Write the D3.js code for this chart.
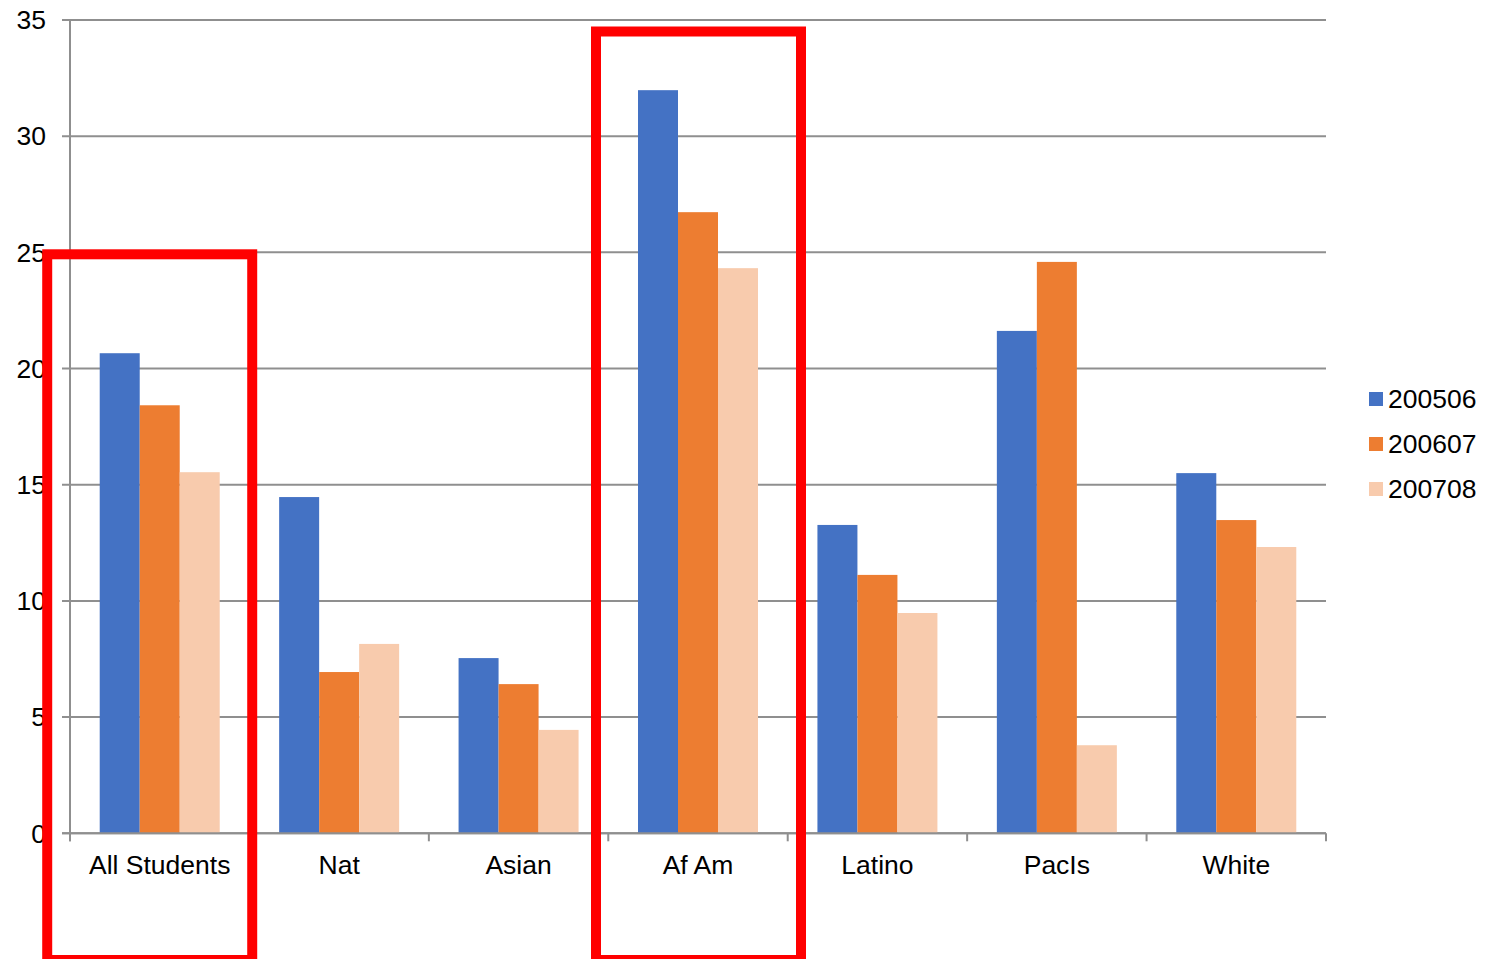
<!DOCTYPE html>
<html>
<head>
<meta charset="utf-8">
<script src="https://d3js.org/d3.v7.min.js"></script>
<style>
html,body{margin:0;padding:0;background:#fff;}
svg{display:block;font-family:"Liberation Sans",Arial,sans-serif;}
</style>
</head>
<body>
<svg id="chart" width="1486" height="959"></svg>
<script>
const categories = ["All Students","Nat","Asian","Af Am","Latino","PacIs","White"];
const seriesNames = ["200506","200607","200708"];
const s200506 = [20.66, 14.47, 7.54, 31.98, 13.27, 21.62, 15.5];
const s200607 = [18.42, 6.94, 6.42, 26.73, 11.12, 24.59, 13.48];
const s200708 = [15.54, 8.15, 4.45, 24.32, 9.48, 3.79, 12.32];
const yTicks = [0,5,10,15,20,25,30,35];
const colors = ["#4472C4","#ED7D31","#F8CBAD"];
const highlighted = ["All Students","Af Am"];

(function(){
const series = [s200506, s200607, s200708];
const svg = d3.select("#chart");
const pLeft = 70, pRight = 1326, pTop = 20, pBottom = 833.3;

const x0 = d3.scaleBand().domain(categories).range([pLeft, pRight]).padding(0);
const step = x0.bandwidth();
const barW = 40;
const groupW = barW * 3;
const x1 = d3.scaleBand().domain(seriesNames).range([(step-groupW)/2, (step+groupW)/2]).padding(0);
const y = d3.scaleLinear().domain([0,35]).range([pBottom, pTop]);

// gridlines
svg.append("g").selectAll("line").data(yTicks).join("line")
  .attr("x1", pLeft-8).attr("x2", pRight)
  .attr("y1", d=>y(d)).attr("y2", d=>y(d))
  .attr("stroke", "#8f8f8f").attr("stroke-width", 2);

// y axis line
svg.append("line").attr("x1", pLeft).attr("x2", pLeft).attr("y1", pTop).attr("y2", pBottom+8)
  .attr("stroke", "#8f8f8f").attr("stroke-width", 2);

// y labels
svg.append("g").selectAll("text").data(yTicks).join("text")
  .attr("x", 46).attr("y", d=>y(d)).attr("dy", "0.35em")
  .attr("text-anchor", "end").attr("font-size", "26.5px").attr("fill", "#000")
  .text(d=>d);

// bars
const g = svg.append("g");
categories.forEach((c, i) => {
  seriesNames.forEach((s, j) => {
    const v = series[j][i];
    g.append("rect")
      .attr("x", x0(c) + x1(s))
      .attr("y", y(v))
      .attr("width", x1.bandwidth())
      .attr("height", y(0) - y(v))
      .attr("fill", colors[j]);
  });
});

// x axis line and ticks
svg.append("line").attr("x1", pLeft-8).attr("x2", pRight).attr("y1", pBottom).attr("y2", pBottom)
  .attr("stroke", "#8f8f8f").attr("stroke-width", 2);
const bounds = categories.map(c => x0(c)).concat([pRight]);
svg.append("g").selectAll("line").data(bounds).join("line")
  .attr("x1", d=>d).attr("x2", d=>d).attr("y1", pBottom).attr("y2", pBottom+8)
  .attr("stroke", "#8f8f8f").attr("stroke-width", 2);

// x labels
svg.append("g").selectAll("text").data(categories).join("text")
  .attr("x", d => x0(d) + step/2).attr("y", 874)
  .attr("text-anchor", "middle").attr("font-size", "26.5px").attr("fill", "#000")
  .text(d=>d);

// legend
const lg = svg.append("g");
seriesNames.forEach((s, j) => {
  const cy = 399 + j*45;
  lg.append("rect").attr("x", 1369).attr("y", cy-7).attr("width", 14).attr("height", 14).attr("fill", colors[j]);
  lg.append("text").attr("x", 1388).attr("y", cy).attr("dy", "0.35em")
    .attr("font-size", "26.5px").attr("fill", "#000").text(s);
});

// red highlight boxes (hand-drawn annotations)
const boxTop = {"All Students": 254.3, "Af Am": 31.5};
const boxShift = {"All Students": -10, "Af Am": 0.5};
highlighted.forEach(c => {
  const bx = x0(c) + step/2 + boxShift[c];
  svg.append("rect")
    .attr("x", bx - 102.5).attr("y", boxTop[c])
    .attr("width", 205).attr("height", 960 - boxTop[c])
    .attr("fill", "none").attr("stroke", "#FF0000").attr("stroke-width", 10);
});
})();
</script>
</body>
</html>
